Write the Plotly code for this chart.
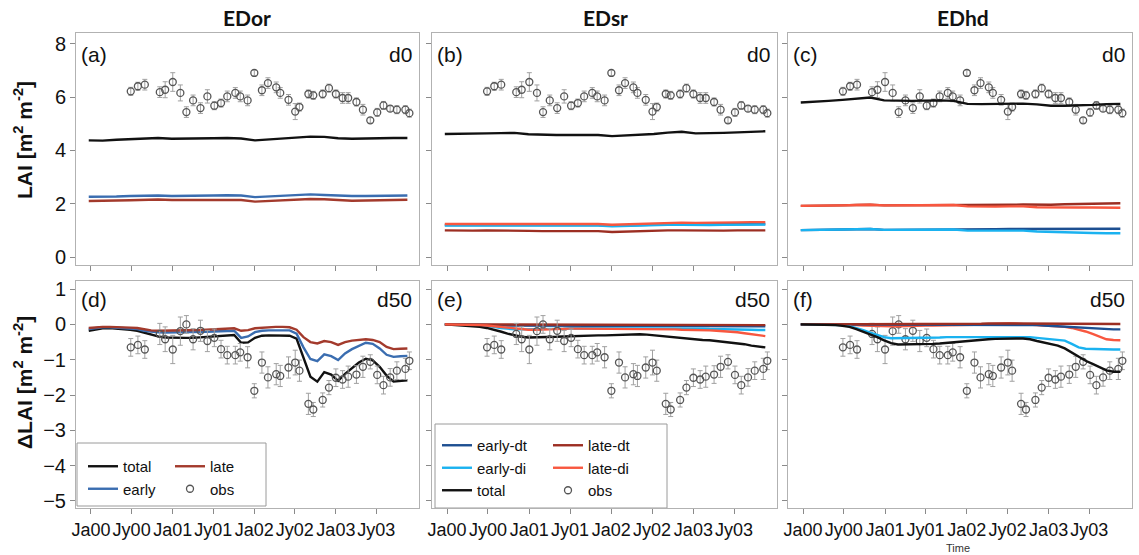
import pandas as pd
import plotly.graph_objects as go
from plotly.subplots import make_subplots

# ---------------- data ----------------
tick_vals = ["2000-01-01", "2000-07-01", "2001-01-01", "2001-07-01",
             "2002-01-01", "2002-07-01", "2003-01-01", "2003-07-01"]
tick_text = ["Ja00", "Jy00", "Ja01", "Jy01", "Ja02", "Jy02", "Ja03", "Jy03"]

# model output time axes (monthly for d50 panels, bimonthly for d0 panels)
t_month = pd.date_range("1999-12-22", periods=47, freq="31D")
t_bimonth = pd.date_range("1999-12-22", periods=24, freq="62D")

obs_dates = ["2000-06-27", "2000-07-29", "2000-08-29", "2000-11-04", "2000-11-28", "2001-01-01",
             "2001-02-04", "2001-03-03", "2001-04-02", "2001-05-05", "2001-06-05", "2001-07-06",
             "2001-08-05", "2001-09-02", "2001-10-08", "2001-10-30", "2001-12-02", "2002-01-01",
             "2002-02-04", "2002-03-03", "2002-04-09", "2002-04-27", "2002-06-03", "2002-07-03",
             "2002-07-22", "2002-08-31", "2002-09-22", "2002-11-03", "2002-12-01", "2003-01-01",
             "2003-01-31", "2003-02-25", "2003-04-03", "2003-05-02", "2003-06-04", "2003-07-05",
             "2003-08-02", "2003-09-01", "2003-10-01", "2003-11-08", "2003-11-26"]
obs_d0 = [6.22, 6.41, 6.47, 6.19, 6.28, 6.57, 6.16, 5.44, 5.88, 5.59, 6.03, 5.68, 5.78, 6.03,
          6.16, 6.03, 5.88, 6.91, 6.26, 6.53, 6.37, 6.16, 5.90, 5.46, 5.63, 6.12, 6.07, 6.12,
          6.34, 6.12, 5.97, 5.97, 5.82, 5.53, 5.13, 5.43, 5.69, 5.57, 5.53, 5.53, 5.40]
err_d0 = [0.15, 0.15, 0.2, 0.2, 0.3, 0.35, 0.3, 0.2, 0.2, 0.2, 0.25, 0.15, 0.15, 0.2,
          0.2, 0.2, 0.2, 0.1, 0.2, 0.2, 0.2, 0.2, 0.2, 0.3, 0.15, 0.15, 0.15, 0.15,
          0.15, 0.15, 0.2, 0.2, 0.15, 0.2, 0.1, 0.15, 0.15, 0.1, 0.15, 0.15, 0.15]
obs_d50 = [-0.65, -0.58, -0.71, -0.27, -0.42, -0.71, -0.19, 0.00, -0.42, -0.18, -0.47, -0.38,
           -0.70, -0.87, -0.87, -0.79, -0.93, -1.88, -1.08, -1.50, -1.41, -1.46, -1.22, -1.08,
           -1.31, -2.25, -2.41, -2.14, -1.79, -1.51, -1.56, -1.48, -1.42, -1.20, -1.06, -1.43,
           -1.72, -1.50, -1.31, -1.26, -1.03]
err_d50 = [0.25, 0.25, 0.25, 0.3, 0.35, 0.4, 0.4, 0.25, 0.3, 0.3, 0.3, 0.25, 0.25, 0.25,
           0.25, 0.25, 0.3, 0.2, 0.3, 0.3, 0.3, 0.3, 0.3, 0.35, 0.3, 0.3, 0.2, 0.2,
           0.2, 0.25, 0.25, 0.3, 0.25, 0.3, 0.2, 0.25, 0.25, 0.25, 0.25, 0.3, 0.25]

# (a) EDor d0
a_total = [4.38, 4.37, 4.40, 4.42, 4.45, 4.47, 4.44, 4.44, 4.45, 4.46, 4.47, 4.45,
           4.38, 4.41, 4.44, 4.49, 4.52, 4.51, 4.46, 4.44, 4.44, 4.46, 4.47, 4.47]
a_early = [2.26, 2.26, 2.27, 2.29, 2.30, 2.31, 2.29, 2.29, 2.30, 2.31, 2.32, 2.31,
           2.25, 2.28, 2.30, 2.32, 2.35, 2.33, 2.30, 2.29, 2.29, 2.30, 2.31, 2.31]
a_late = [2.10, 2.10, 2.12, 2.13, 2.15, 2.16, 2.14, 2.14, 2.14, 2.14, 2.15, 2.14,
          2.08, 2.11, 2.13, 2.16, 2.18, 2.17, 2.13, 2.11, 2.12, 2.13, 2.14, 2.15]
# (b) EDsr d0
b_total = [4.62, 4.62, 4.63, 4.64, 4.65, 4.66, 4.61, 4.59, 4.58, 4.58, 4.59, 4.58,
           4.54, 4.56, 4.58, 4.62, 4.67, 4.70, 4.64, 4.64, 4.66, 4.68, 4.70, 4.72]
b_early_dt = [1.20, 1.20, 1.20, 1.21, 1.21, 1.21, 1.19, 1.19, 1.19, 1.19, 1.20, 1.20,
              1.17, 1.19, 1.20, 1.21, 1.23, 1.23, 1.22, 1.22, 1.23, 1.23, 1.24, 1.24]
b_early_di = [1.18, 1.18, 1.18, 1.19, 1.19, 1.19, 1.17, 1.17, 1.17, 1.17, 1.18, 1.18,
              1.15, 1.17, 1.18, 1.19, 1.21, 1.21, 1.20, 1.20, 1.21, 1.21, 1.22, 1.22]
b_late_dt = [1.00, 0.99, 0.99, 1.00, 1.00, 1.00, 0.98, 0.97, 0.97, 0.97, 0.98, 0.97,
             0.94, 0.96, 0.97, 0.99, 1.00, 1.00, 0.99, 0.99, 0.99, 1.00, 1.00, 1.00]
b_late_di = [1.24, 1.24, 1.24, 1.25, 1.25, 1.25, 1.23, 1.23, 1.23, 1.23, 1.24, 1.24,
             1.21, 1.23, 1.25, 1.27, 1.29, 1.29, 1.28, 1.28, 1.29, 1.30, 1.31, 1.31]
# (c) EDhd d0
c_total = [5.80, 5.82, 5.86, 5.90, 5.95, 5.99, 5.88, 5.86, 5.86, 5.87, 5.88, 5.86,
           5.75, 5.74, 5.74, 5.75, 5.76, 5.73, 5.68, 5.68, 5.69, 5.71, 5.74, 5.75]
c_early_dt = [1.01, 1.01, 1.02, 1.03, 1.04, 1.05, 1.02, 1.02, 1.03, 1.03, 1.04, 1.04,
              1.02, 1.03, 1.04, 1.05, 1.05, 1.04, 1.04, 1.04, 1.05, 1.05, 1.06, 1.06]
c_early_di = [1.01, 1.01, 1.02, 1.03, 1.04, 1.05, 1.02, 1.02, 1.03, 1.03, 1.04, 1.03,
              0.99, 0.99, 1.00, 1.00, 0.99, 0.96, 0.94, 0.93, 0.92, 0.90, 0.89, 0.89]
c_late_dt = [1.92, 1.92, 1.93, 1.94, 1.95, 1.96, 1.94, 1.94, 1.94, 1.95, 1.95, 1.96,
             1.94, 1.94, 1.95, 1.96, 1.97, 1.96, 1.96, 1.98, 1.99, 2.00, 2.01, 2.02]
c_late_di = [1.92, 1.92, 1.93, 1.94, 1.95, 1.96, 1.94, 1.94, 1.94, 1.95, 1.95, 1.95,
             1.90, 1.89, 1.89, 1.90, 1.90, 1.87, 1.86, 1.86, 1.86, 1.86, 1.85, 1.85]

# (d) EDor d50
d_total = [-0.18, -0.14, -0.11, -0.10, -0.11, -0.13, -0.15, -0.18, -0.24, -0.30,
           -0.34, -0.37, -0.38, -0.38, -0.38, -0.38, -0.37, -0.36, -0.35, -0.33,
           -0.31, -0.30, -0.52, -0.51, -0.38, -0.32, -0.31, -0.31, -0.31, -0.32,
           -0.40, -0.95, -1.48, -1.62, -1.35, -1.42, -1.60, -1.40, -1.23, -1.08,
           -0.97, -1.02, -1.20, -1.45, -1.62, -1.60, -1.58]
d_early = [-0.13, -0.10, -0.08, -0.08, -0.09, -0.10, -0.11, -0.13, -0.18, -0.21,
           -0.22, -0.23, -0.23, -0.23, -0.23, -0.22, -0.22, -0.21, -0.20, -0.19,
           -0.18, -0.18, -0.38, -0.34, -0.22, -0.18, -0.17, -0.17, -0.17, -0.17,
           -0.26, -0.65, -0.98, -1.04, -0.85, -0.90, -1.01, -0.82, -0.70, -0.60,
           -0.52, -0.55, -0.68, -0.86, -0.92, -0.90, -0.89]
d_late = [-0.10, -0.08, -0.07, -0.07, -0.07, -0.08, -0.09, -0.10, -0.14, -0.17,
          -0.18, -0.18, -0.18, -0.18, -0.18, -0.17, -0.16, -0.15, -0.14, -0.12,
          -0.11, -0.11, -0.18, -0.16, -0.11, -0.09, -0.08, -0.07, -0.07, -0.08,
          -0.15, -0.36, -0.50, -0.54, -0.47, -0.50, -0.58, -0.50, -0.46, -0.44,
          -0.42, -0.44, -0.50, -0.64, -0.70, -0.69, -0.68]
# (e) EDsr d50
e_total = [0.00, -0.01, -0.02, -0.03, -0.05, -0.07, -0.10, -0.14, -0.20, -0.26,
           -0.31, -0.35, -0.37, -0.37, -0.36, -0.36, -0.35, -0.34, -0.33, -0.32,
           -0.32, -0.31, -0.31, -0.31, -0.30, -0.30, -0.29, -0.28, -0.28, -0.29,
           -0.31, -0.33, -0.36, -0.38, -0.40, -0.42, -0.43, -0.44, -0.45, -0.47,
           -0.48, -0.50, -0.52, -0.56, -0.60, -0.63, -0.65]
e_early_dt = [0.00, 0.00, 0.00, 0.00, -0.01, -0.01, -0.01, -0.02, -0.02, -0.03,
              -0.03, -0.03, -0.03, -0.03, -0.03, -0.03, -0.03, -0.03, -0.03, -0.03,
              -0.03, -0.03, -0.03, -0.03, -0.03, -0.03, -0.03, -0.03, -0.03, -0.03,
              -0.03, -0.03, -0.03, -0.03, -0.03, -0.04, -0.04, -0.04, -0.04, -0.04,
              -0.04, -0.04, -0.05, -0.05, -0.05, -0.05, -0.05]
e_early_di = [0.00, 0.00, -0.01, -0.01, -0.02, -0.03, -0.04, -0.07, -0.10, -0.13,
              -0.14, -0.14, -0.14, -0.13, -0.13, -0.12, -0.12, -0.12, -0.11, -0.11,
              -0.11, -0.10, -0.10, -0.10, -0.10, -0.10, -0.10, -0.10, -0.10, -0.10,
              -0.10, -0.10, -0.11, -0.11, -0.11, -0.12, -0.12, -0.12, -0.13, -0.13,
              -0.13, -0.14, -0.14, -0.15, -0.15, -0.16, -0.16]
e_late_dt = [0.00, 0.00, 0.00, 0.00, 0.00, 0.00, 0.00, -0.01, -0.01, -0.01,
             -0.01, -0.01, -0.01, -0.01, -0.01, -0.01, 0.00, 0.00, 0.00, 0.00,
             0.00, 0.00, 0.00, 0.00, 0.00, 0.00, 0.00, 0.00, 0.00, 0.00,
             0.00, 0.00, 0.00, 0.00, 0.00, 0.00, 0.00, 0.00, 0.00, 0.00,
             -0.01, -0.01, -0.01, -0.01, -0.02, -0.02, -0.02]
e_late_di = [0.00, 0.00, -0.01, -0.01, -0.02, -0.02, -0.03, -0.05, -0.08, -0.11,
             -0.13, -0.14, -0.15, -0.15, -0.14, -0.14, -0.13, -0.13, -0.12, -0.12,
             -0.12, -0.12, -0.12, -0.12, -0.12, -0.12, -0.12, -0.12, -0.12, -0.12,
             -0.13, -0.13, -0.14, -0.14, -0.15, -0.15, -0.16, -0.16, -0.17, -0.18,
             -0.19, -0.20, -0.22, -0.25, -0.28, -0.31, -0.33]
# (f) EDhd d50
f_total = [0.00, 0.00, 0.00, -0.01, -0.01, -0.02, -0.04, -0.07, -0.13, -0.20,
           -0.28, -0.36, -0.45, -0.53, -0.57, -0.57, -0.57, -0.57, -0.56, -0.55,
           -0.54, -0.52, -0.50, -0.48, -0.46, -0.44, -0.43, -0.42, -0.41, -0.40,
           -0.40, -0.40, -0.40, -0.42, -0.47, -0.52, -0.56, -0.60, -0.68, -0.80,
           -0.92, -1.03, -1.12, -1.22, -1.30, -1.34, -1.34]
f_early_dt = [0.00, 0.00, 0.00, 0.00, 0.00, 0.00, 0.00, 0.00, -0.01, -0.01,
              -0.01, -0.02, -0.02, -0.02, -0.02, -0.02, -0.02, -0.02, -0.02, -0.02,
              -0.02, -0.01, -0.01, -0.01, -0.01, -0.01, -0.01, -0.01, -0.01, -0.01,
              -0.01, 0.00, -0.01, -0.01, -0.02, -0.03, -0.04, -0.05, -0.07, -0.09,
              -0.10, -0.11, -0.12, -0.13, -0.13, -0.14, -0.14]
f_early_di = [0.00, 0.00, 0.00, 0.00, 0.00, -0.01, -0.02, -0.05, -0.10, -0.16,
              -0.23, -0.30, -0.36, -0.39, -0.39, -0.39, -0.39, -0.38, -0.38, -0.37,
              -0.37, -0.36, -0.36, -0.35, -0.35, -0.35, -0.34, -0.34, -0.34, -0.34,
              -0.35, -0.35, -0.35, -0.36, -0.38, -0.40, -0.41, -0.42, -0.46, -0.55,
              -0.65, -0.69, -0.70, -0.70, -0.71, -0.71, -0.71]
f_late_dt = [0.00, 0.00, 0.00, 0.00, 0.00, 0.00, 0.00, 0.00, 0.00, 0.00,
             0.00, 0.00, 0.00, 0.00, 0.00, 0.00, 0.01, 0.01, 0.01, 0.01,
             0.01, 0.01, 0.01, 0.02, 0.02, 0.02, 0.02, 0.03, 0.03, 0.03,
             0.02, 0.02, 0.02, 0.01, 0.01, 0.01, 0.01, 0.01, 0.01, 0.01,
             0.01, 0.01, 0.01, 0.01, 0.01, 0.01, 0.01]
f_late_di = [0.00, 0.00, 0.00, 0.00, 0.00, 0.00, 0.00, -0.01, -0.02, -0.03,
             -0.04, -0.05, -0.05, -0.05, -0.05, -0.04, -0.04, -0.04, -0.03, -0.03,
             -0.03, -0.02, -0.02, -0.02, -0.01, -0.01, 0.00, 0.01, 0.02, 0.03,
             0.03, 0.02, 0.01, 0.00, -0.01, -0.02, -0.03, -0.04, -0.07, -0.10,
             -0.14, -0.20, -0.27, -0.34, -0.42, -0.44, -0.45]

panel_titles = ["EDor", "EDsr", "EDhd"]
panel_letters = ["(a)", "(b)", "(c)", "(d)", "(e)", "(f)"]

# ---------------- styles ----------------
C_TOTAL = "#111111"
C_EARLY = "#3a6db0"
C_LATE = "#a33a2c"
C_EARLY_DT = "#1d4f91"
C_EARLY_DI = "#1ab2f0"
C_LATE_DT = "#9c2e22"
C_LATE_DI = "#f8573f"
LW = 2.4
FONT = "Liberation Sans, Arial, sans-serif"

W, H = 1139, 555
ML, MR, MT, MB = 76, 7, 33, 47
PW, PH = W - ML - MR, H - MT - MB


def px_x(x):
    return (x - ML) / PW


def px_y(y):
    return (H - MB - y) / PH


fig = make_subplots(rows=2, cols=3)


def line(x, y, color, name, row, col, legend=None):
    fig.add_trace(go.Scatter(x=x, y=y, mode="lines", name=name,
                             line=dict(color=color, width=LW),
                             showlegend=legend is not None,
                             legend=legend if legend else "legend"),
                  row=row, col=col)


def obs(y, err, row, col, legend=None):
    fig.add_trace(go.Scatter(x=obs_dates, y=y, mode="markers", name="obs",
                             marker=dict(symbol="circle-open", size=7, color="#555555",
                                         line=dict(width=1.3)),
                             error_y=dict(type="data", array=err, color="#a0a0a0",
                                          thickness=1, width=2.5),
                             showlegend=legend is not None,
                             legend=legend if legend else "legend"),
                  row=row, col=col)


# top row (d0)
obs(obs_d0, err_d0, 1, 1)
line(t_bimonth, a_late, C_LATE, "late", 1, 1)
line(t_bimonth, a_early, C_EARLY, "early", 1, 1)
line(t_bimonth, a_total, C_TOTAL, "total", 1, 1)

obs(obs_d0, err_d0, 1, 2)
line(t_bimonth, b_late_dt, C_LATE_DT, "late-dt", 1, 2)
line(t_bimonth, b_early_dt, C_EARLY_DT, "early-dt", 1, 2)
line(t_bimonth, b_early_di, C_EARLY_DI, "early-di", 1, 2)
line(t_bimonth, b_late_di, C_LATE_DI, "late-di", 1, 2)
line(t_bimonth, b_total, C_TOTAL, "total", 1, 2)

obs(obs_d0, err_d0, 1, 3)
line(t_bimonth, c_late_dt, C_LATE_DT, "late-dt", 1, 3)
line(t_bimonth, c_late_di, C_LATE_DI, "late-di", 1, 3)
line(t_bimonth, c_early_dt, C_EARLY_DT, "early-dt", 1, 3)
line(t_bimonth, c_early_di, C_EARLY_DI, "early-di", 1, 3)
line(t_bimonth, c_total, C_TOTAL, "total", 1, 3)

# bottom row (d50)
line(t_month, d_total, C_TOTAL, "total", 2, 1, "legend")
line(t_month, d_early, C_EARLY, "early", 2, 1, "legend")
line(t_month, d_late, C_LATE, "late", 2, 1, "legend2")
obs(obs_d50, err_d50, 2, 1, "legend2")

line(t_month, e_early_dt, C_EARLY_DT, "early-dt", 2, 2, "legend3")
line(t_month, e_early_di, C_EARLY_DI, "early-di", 2, 2, "legend3")
line(t_month, e_total, C_TOTAL, "total", 2, 2, "legend3")
line(t_month, e_late_dt, C_LATE_DT, "late-dt", 2, 2, "legend4")
line(t_month, e_late_di, C_LATE_DI, "late-di", 2, 2, "legend4")
obs(obs_d50, err_d50, 2, 2, "legend4")

obs(obs_d50, err_d50, 2, 3)
line(t_month, f_late_di, C_LATE_DI, "late-di", 2, 3)
line(t_month, f_early_dt, C_EARLY_DT, "early-dt", 2, 3)
line(t_month, f_early_di, C_EARLY_DI, "early-di", 2, 3)
line(t_month, f_late_dt, C_LATE_DT, "late-dt", 2, 3)
line(t_month, f_total, C_TOTAL, "total", 2, 3)

# ---------------- axes ----------------
x_doms = [[px_x(76), px_x(419)], [px_x(432), px_x(777)], [px_x(788), px_x(1132)]]
y_doms = [[px_y(265), px_y(33)], [px_y(508), px_y(281)]]

axis_common = dict(showline=True, mirror=True, linecolor="#b2b2b2", linewidth=1,
                   showgrid=False, zeroline=False, ticks="outside", tickcolor="#8a8a8a",
                   ticklen=5, tickwidth=1)

for r in range(2):
    for c in range(3):
        idx = r * 3 + c + 1
        sfx = "" if idx == 1 else str(idx)
        fig.layout["xaxis" + sfx].update(
            domain=x_doms[c], type="date", range=["1999-10-26", "2004-01-08"],
            tickvals=tick_vals, ticktext=tick_text, showticklabels=(r == 1),
            tickangle=0,
            tickfont=dict(family=FONT, size=18, color="#111111"), **axis_common)
        if r == 0:
            fig.layout["yaxis" + sfx].update(
                domain=y_doms[0], range=[-0.3, 8.41], tickvals=[0, 2, 4, 6, 8],
                showticklabels=(c == 0),
                tickfont=dict(family=FONT, size=20, color="#111111"), **axis_common)
        else:
            fig.layout["yaxis" + sfx].update(
                domain=y_doms[1], range=[-5.2, 1.23], tickvals=[-5, -4, -3, -2, -1, 0, 1],
                showticklabels=(c == 0),
                tickfont=dict(family=FONT, size=20, color="#111111"), **axis_common)

# ---------------- annotations ----------------
ann = []
title_x = [247, 605, 963]
for t, xx in zip(panel_titles, title_x):
    ann.append(dict(text="<b>%s</b>" % t, x=px_x(xx), y=px_y(17), xref="paper", yref="paper",
                    showarrow=False, xanchor="center", yanchor="middle",
                    font=dict(family="Lato, Open Sans, sans-serif", size=21, color="#111111")))

for i, lab in enumerate(panel_letters):
    idx = i + 1
    sfx = "" if idx == 1 else str(idx)
    top = i < 3
    ysh = -8 if top else -5
    ann.append(dict(text=lab, x=0, y=1, xref="x%s domain" % sfx, yref="y%s domain" % sfx,
                    xanchor="left", yanchor="top", xshift=3, yshift=ysh, showarrow=False,
                    font=dict(family=FONT, size=21, color="#111111")))
    ann.append(dict(text="d0" if top else "d50", x=1, y=1, xref="x%s domain" % sfx,
                    yref="y%s domain" % sfx, xanchor="right", yanchor="top", xshift=-5,
                    yshift=ysh, showarrow=False,
                    font=dict(family=FONT, size=21, color="#111111")))

ann.append(dict(text="<b>LAI [m<sup>2</sup> m<sup>-2</sup>]</b>", x=px_x(23), y=px_y(140),
                xref="paper", yref="paper", textangle=-90, showarrow=False,
                xanchor="center", yanchor="middle",
                font=dict(family=FONT, size=21, color="#111111")))
ann.append(dict(text="<b>ΔLAI [m<sup>2</sup> m<sup>-2</sup>]</b>", x=px_x(23), y=px_y(383),
                xref="paper", yref="paper", textangle=-90, showarrow=False,
                xanchor="center", yanchor="middle",
                font=dict(family=FONT, size=21, color="#111111")))
ann.append(dict(text="Time", x=px_x(958), y=px_y(548), xref="paper", yref="paper",
                showarrow=False, xanchor="center", yanchor="middle",
                font=dict(family=FONT, size=11, color="#333333")))

shapes = [
    dict(type="rect", xref="paper", yref="paper", x0=px_x(77), x1=px_x(266),
         y0=px_y(506), y1=px_y(443), line=dict(color="#9a9a9a", width=1),
         fillcolor="white", layer="below"),
    dict(type="rect", xref="paper", yref="paper", x0=px_x(435), x1=px_x(667),
         y0=px_y(508), y1=px_y(424), line=dict(color="#9a9a9a", width=1),
         fillcolor="white", layer="below"),
]

leg_common = dict(bgcolor="rgba(0,0,0,0)", borderwidth=0, xanchor="left", yanchor="top",
                  orientation="v", tracegroupgap=0,
                  font=dict(family=FONT, size=15, color="#111111"))

fig.update_layout(
    width=W, height=H, margin=dict(l=ML, r=MR, t=MT, b=MB),
    paper_bgcolor="white", plot_bgcolor="white",
    annotations=ann, shapes=shapes,
    legend=dict(x=px_x(83), y=px_y(450), **leg_common),
    legend2=dict(x=px_x(170), y=px_y(450), **leg_common),
    legend3=dict(x=px_x(437), y=px_y(429), **leg_common),
    legend4=dict(x=px_x(548), y=px_y(429), **leg_common),
)

fig.write_html("out.html")
